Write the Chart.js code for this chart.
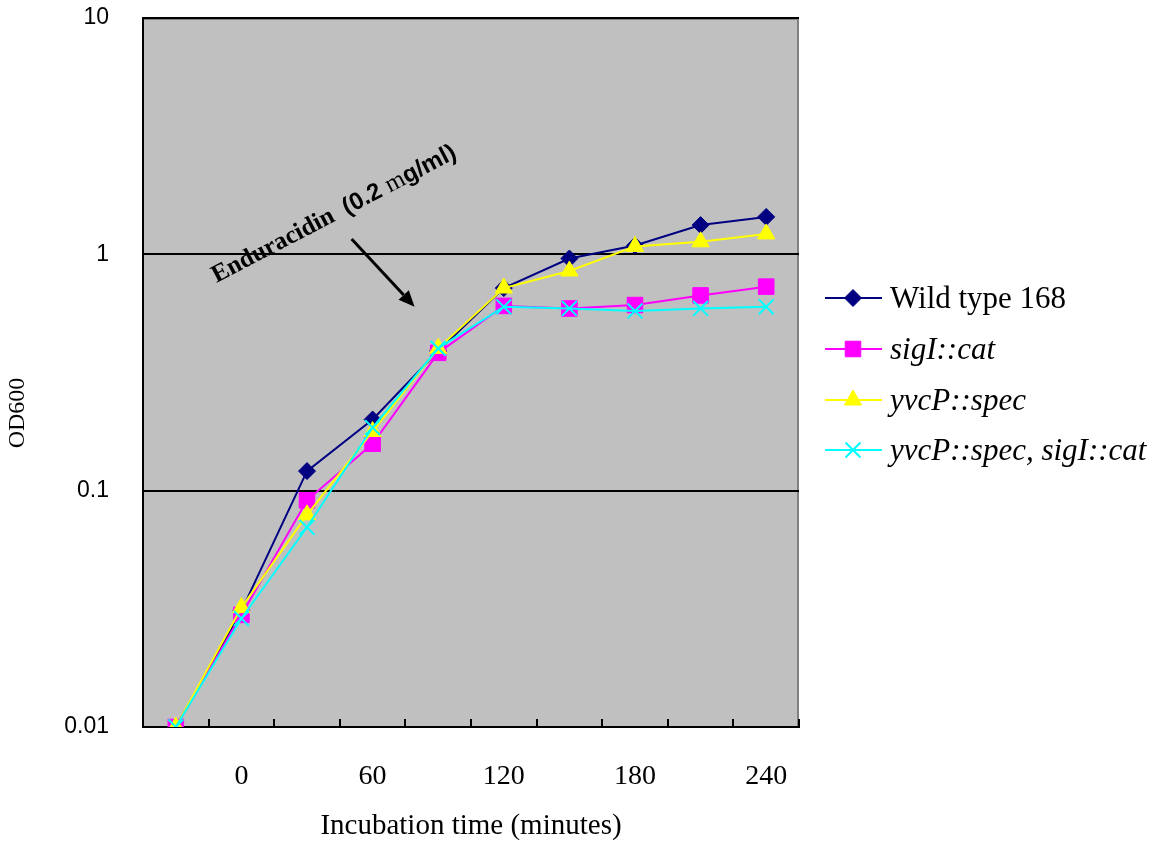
<!DOCTYPE html>
<html>
<head>
<meta charset="utf-8">
<script src="https://cdn.jsdelivr.net/npm/chart.js@4.4.1/dist/chart.umd.min.js"></script>
<style>
  html, body { margin: 0; padding: 0; background: #fff; }
  #wrap { width: 1161px; height: 845px; }
</style>
</head>
<body>
<div id="wrap"><canvas id="odChart" width="1161" height="845"></canvas></div>
<script>
// incubation time (minutes) for each sample
const times = [-30, 0, 30, 60, 90, 120, 150, 180, 210, 240];
const xTickLabels = ['', '0', '', '60', '', '120', '', '180', '', '240'];
const yTicks = [0.01, 0.1, 1, 10];
const yTickLabels = ['0.01', '0.1', '1', '10'];

// OD600 per strain
const wildType = [0.01, 0.031, 0.121, 0.2, 0.39, 0.72, 0.96, 1.09, 1.33, 1.44];
const sigICat = [0.01, 0.0298, 0.091, 0.158, 0.383, 0.605, 0.59, 0.61, 0.67, 0.73];
const yvcPSpec = [0.01, 0.032, 0.079, 0.178, 0.40, 0.72, 0.85, 1.08, 1.13, 1.22];
const yvcPSigI = [0.01, 0.0288, 0.070, 0.185, 0.40, 0.60, 0.59, 0.576, 0.59, 0.60];

const seriesNames = ['Wild type 168', 'sigI::cat', 'yvcP::spec', 'yvcP::spec, sigI::cat'];

const serif = "'Liberation Serif', 'Times New Roman', serif";
const sans = "'Liberation Sans', Arial, sans-serif";

function series(label, data, color, style, radius, order, italic) {
    return {
        label: label,
        data: data,
        borderColor: color,
        backgroundColor: color,
        borderWidth: 2,
        pointStyle: style,
        pointRadius: radius,
        pointBorderWidth: style === 'crossRot' ? 2 : 1,
        pointBorderColor: color,
        pointBackgroundColor: color,
        tension: 0,
        order: order,
        italic: italic
    };
}

const datasets = [
    series(seriesNames[0], wildType, '#000080', 'rectRot', 8.5, 4, false),
    series(seriesNames[1], sigICat, '#ff00ff', 'rect', 11, 3, true),
    series(seriesNames[2], yvcPSpec, '#ffff00', 'triangle', 10, 2, true),
    series(seriesNames[3], yvcPSigI, '#00ffff', 'crossRot', 10.5, 1, true)
];

const plotExtras = {
    id: 'plotExtras',
    beforeDraw(chart) {
        const {ctx, chartArea: a} = chart;
        ctx.save();
        ctx.fillStyle = '#c0c0c0';
        ctx.fillRect(a.left, a.top, a.right - a.left, a.bottom - a.top);
        ctx.strokeStyle = '#808080';
        ctx.lineWidth = 2;
        ctx.strokeRect(a.left, a.top + 1, a.right - a.left - 1, a.bottom - a.top - 1);
        ctx.restore();
    },
    beforeDatasetsDraw(chart) {
        // x tick marks point up into the plot
        const {ctx, chartArea: a, scales: {x}} = chart;
        ctx.save();
        ctx.strokeStyle = '#000';
        ctx.lineWidth = 2;
        for (let i = 0; i <= times.length; i++) {
            const px = Math.round(x.getPixelForValue(i - 0.5));
            ctx.beginPath();
            ctx.moveTo(px, a.bottom);
            ctx.lineTo(px, a.bottom - 8);
            ctx.stroke();
        }
        ctx.restore();
    },
    afterDatasetsDraw(chart) {
        const {ctx, scales: {x, y}} = chart;
        // annotation text
        const tx = x.getPixelForValue(0.62), ty = y.getPixelForValue(0.757);
        const parts = [
            ['Enduracidin  ', 'bold 25px ' + serif],
            ['(0.2 ', 'bold 24px ' + sans],
            ['m', '25px ' + serif],
            ['g/ml)', 'bold 24px ' + sans]
        ];
        ctx.save();
        ctx.translate(tx, ty);
        ctx.rotate(-27.5 * Math.PI / 180);
        ctx.fillStyle = '#000';
        ctx.textBaseline = 'alphabetic';
        let off = 0;
        parts.forEach(p => {
            ctx.font = p[1];
            ctx.fillText(p[0], off, 0);
            off += ctx.measureText(p[0]).width;
        });
        ctx.restore();

        // arrow
        const x0 = x.getPixelForValue(2.68), y0 = y.getPixelForValue(1.16);
        const x1 = x.getPixelForValue(3.64), y1 = y.getPixelForValue(0.6);
        const ang = Math.atan2(y1 - y0, x1 - x0);
        const head = 16, hw = 7;
        ctx.save();
        ctx.strokeStyle = '#000';
        ctx.fillStyle = '#000';
        ctx.lineWidth = 3;
        ctx.beginPath();
        ctx.moveTo(x0, y0);
        ctx.lineTo(x1 - head * Math.cos(ang), y1 - head * Math.sin(ang));
        ctx.stroke();
        ctx.beginPath();
        ctx.moveTo(x1, y1);
        ctx.lineTo(x1 - head * Math.cos(ang) + hw * Math.sin(ang), y1 - head * Math.sin(ang) - hw * Math.cos(ang));
        ctx.lineTo(x1 - head * Math.cos(ang) - hw * Math.sin(ang), y1 - head * Math.sin(ang) + hw * Math.cos(ang));
        ctx.closePath();
        ctx.fill();
        ctx.restore();
    },
    afterDraw(chart) {
        const ctx = chart.ctx;
        // y axis title sits below the middle of the axis
        ctx.save();
        ctx.translate(18, 413);
        ctx.rotate(-Math.PI / 2);
        ctx.fillStyle = '#000';
        ctx.font = '24px ' + serif;
        ctx.textAlign = 'center';
        ctx.textBaseline = 'middle';
        ctx.fillText('OD600', 0, 0);
        ctx.restore();

        // legend on the right
        const lx0 = 825, lx1 = 882, mx = 853, textX = 890;
        const rows = [298, 349, 400, 450];
        ctx.save();
        chart.data.datasets.forEach((ds, i) => {
            const cy = rows[i];
            ctx.strokeStyle = ds.borderColor;
            ctx.lineWidth = 2;
            ctx.beginPath();
            ctx.moveTo(lx0, cy);
            ctx.lineTo(lx1, cy);
            ctx.stroke();
            ctx.fillStyle = ds.pointBackgroundColor;
            ctx.strokeStyle = ds.pointBorderColor;
            ctx.lineWidth = ds.pointBorderWidth;
            Chart.helpers.drawPoint(ctx, {pointStyle: ds.pointStyle, radius: ds.pointRadius, rotation: 0, borderWidth: ds.pointBorderWidth}, mx, cy);
            ctx.fillStyle = '#000';
            ctx.font = (ds.italic ? 'italic ' : '') + '31px ' + serif;
            ctx.textBaseline = 'alphabetic';
            ctx.fillText(ds.label, textX, cy + 10);
        });
        ctx.restore();
    }
};

new Chart(document.getElementById('odChart'), {
    type: 'line',
    data: {
        labels: times,
        datasets: datasets
    },
    options: {
        responsive: false,
        animation: false,
        layout: {
            padding: {left: 0, right: 362, top: 18, bottom: 0}
        },
        scales: {
            x: {
                type: 'category',
                offset: true,
                grid: {display: false, offset: true},
                border: {display: true, color: '#000', width: 2},
                ticks: {
                    autoSkip: false,
                    maxRotation: 0,
                    padding: 25,
                    color: '#000',
                    font: {family: serif, size: 28},
                    callback: function (v, i) { return xTickLabels[i]; }
                },
                title: {
                    display: true,
                    text: 'Incubation time (minutes)',
                    color: '#000',
                    font: {family: serif, size: 29},
                    padding: {top: 0, bottom: 1}
                },
                afterFit: function (s) {
                    s.height = 118;
                    s.paddingLeft = 0;
                    s.paddingRight = 0;
                }
            },
            y: {
                type: 'logarithmic',
                min: 0.01,
                max: 10,
                grid: {color: '#000', lineWidth: 2, drawTicks: false},
                border: {display: true, color: '#000', width: 2},
                afterBuildTicks: function (s) {
                    s.ticks = yTicks.map(v => ({value: v, major: true}));
                },
                ticks: {
                    padding: 34,
                    color: '#000',
                    font: {family: sans, size: 23},
                    callback: function (v) { return yTickLabels[yTicks.indexOf(v)]; }
                },
                title: {display: false},
                afterFit: function (s) {
                    s.width = 143;
                    s.paddingTop = 0;
                    s.paddingBottom = 0;
                }
            }
        },
        plugins: {
            legend: {display: false},
            tooltip: {enabled: false}
        }
    },
    plugins: [plotExtras]
});
</script>
</body>
</html>
